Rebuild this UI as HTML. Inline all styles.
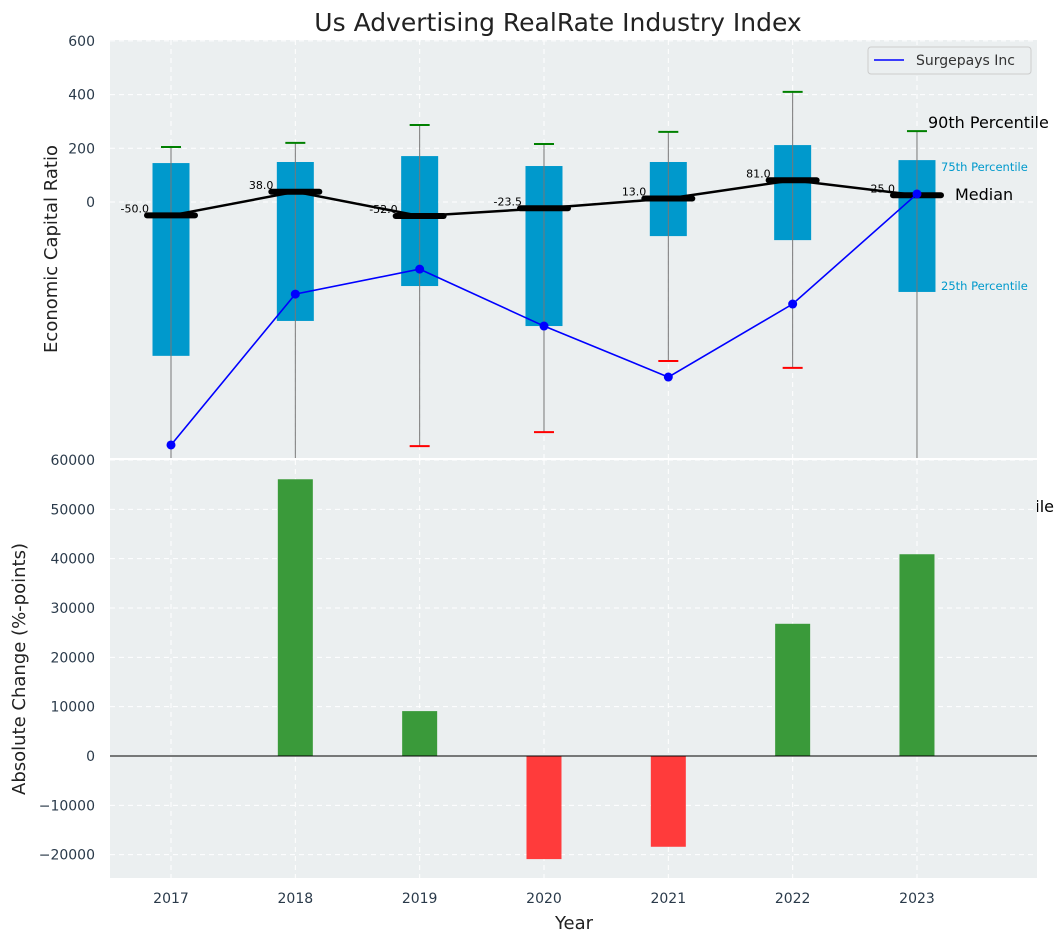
<!DOCTYPE html>
<html><head><meta charset="utf-8"><style>
body{margin:0;background:#fff;overflow:hidden;}
svg{display:block;font-family:"DejaVu Sans","Liberation Sans",sans-serif;}
</style></head><body>
<svg id="c" width="1063" height="942"></svg>
<script>
const years=["2017","2018","2019","2020","2021","2022","2023"];
const p75=[145,149,171,134,149,212,156];
const p25=[-573,-443,-313,-462,-127,-142,-335];
const p90=[205,220,287,216,261,410,264];
const p10=[-1200,-1200,-909,-857,-592,-618,-1200];
const medians=[-50,38,-52,-23.5,13,81,25];
const surge=[-905,-343,-250,-462,-652,-380,30];
const changes=[null,56100,9100,-20900,-18400,26800,40900];
const topTicks=[0,200,400,600];
const botTicks=[-20000,-10000,0,10000,20000,30000,40000,50000,60000];
const NS="http://www.w3.org/2000/svg";
const svg=document.getElementById('c');
function mk(t,a,p){const e=document.createElementNS(NS,t);for(const k in a)e.setAttribute(k,a[k]);(p||svg).appendChild(e);return e;}
const X0=171,DX=124.33;
const x=i=>X0+i*DX;
const L=110,R=1037;
const yT=v=>202-v*0.2685;
const yB=v=>756-v*0.004933;
let t=mk('text',{x:558,y:31,'text-anchor':'middle','font-size':25,fill:'#222'});t.textContent='Us Advertising RealRate Industry Index';

let bg1=mk('rect',{x:L,y:40,width:R-L,height:418,fill:'#ebeff0'});

let bg2=mk('rect',{x:L,y:460,width:R-L,height:418,fill:'#ebeff0'});

const clip1=mk('clipPath',{id:'c1'});mk('rect',{x:L,y:40,width:R-L,height:418},clip1);
const clip2=mk('clipPath',{id:'c2'});mk('rect',{x:L,y:460,width:R-L,height:418},clip2);
const g1=mk('g',{'clip-path':'url(#c1)'});const g2=mk('g',{'clip-path':'url(#c2)'});
years.forEach((y,i)=>{mk('line',{x1:x(i),x2:x(i),y1:40,y2:458,stroke:'#fff','stroke-dasharray':'5,4','stroke-width':1},g1);
mk('line',{x1:x(i),x2:x(i),y1:460,y2:878,stroke:'#fff','stroke-dasharray':'5,4','stroke-width':1},g2);
let tl=mk('text',{x:x(i),y:903,'text-anchor':'middle','font-size':14,fill:'#2a3a4a'});tl.textContent=y;
});
topTicks.forEach(v=>{mk('line',{x1:L,x2:R,y1:yT(v),y2:yT(v),stroke:'#fff','stroke-dasharray':'5,4'},g1);
let tl=mk('text',{x:95,y:yT(v)+5,'text-anchor':'end','font-size':14,fill:'#2a3a4a'});tl.textContent=v;
});
botTicks.forEach(v=>{mk('line',{x1:L,x2:R,y1:yB(v),y2:yB(v),stroke:'#fff','stroke-dasharray':'5,4'},g2);
let tl=mk('text',{x:95,y:yB(v)+5,'text-anchor':'end','font-size':14,fill:'#2a3a4a'});tl.textContent=v<0?'\u2212'+(-v):v;
});
years.forEach((y,i)=>{
 let b=mk('rect',{x:x(i)-18.5,y:yT(p75[i]),width:37,height:yT(p25[i])-yT(p75[i]),fill:'#0099cc'},g1);
 
 let w=mk('line',{x1:x(i),x2:x(i),y1:yT(p90[i]),y2:yT(p10[i]),stroke:'#777','stroke-width':1},g1);
 
 let c=mk('line',{x1:x(i)-10,x2:x(i)+10,y1:yT(p90[i]),y2:yT(p90[i]),stroke:'green','stroke-width':2},g1);
 
 let c2=mk('line',{x1:x(i)-10,x2:x(i)+10,y1:yT(p10[i]),y2:yT(p10[i]),stroke:'red','stroke-width':2},g1);
 
});
let ml=mk('polyline',{points:medians.map((v,i)=>x(i)+','+yT(v)).join(' '),fill:'none',stroke:'#000','stroke-width':2.5},g1);

medians.forEach((v,i)=>{let m=mk('line',{x1:x(i)-24,x2:x(i)+24,y1:yT(v),y2:yT(v),stroke:'#000','stroke-width':6,'stroke-linecap':'round'},g1);

let tl=mk('text',{x:x(i)-22,y:yT(v)-3,'text-anchor':'end','font-size':11,fill:'#000'});tl.textContent=v.toFixed(1);
});
let sl=mk('polyline',{points:surge.map((v,i)=>x(i)+','+yT(v)).join(' '),fill:'none',stroke:'blue','stroke-width':1.6},g1);

surge.forEach((v,i)=>{let p=mk('circle',{cx:x(i),cy:yT(v),r:4.5,fill:'blue'},g1);
});
const ann=[[928,128,'90th Percentile',16,'#000','start'],[941,171,'75th Percentile',11.5,'#0099cc','start'],[955,200,'Median',16,'#000','start'],[941,290,'25th Percentile',11.5,'#0099cc','start'],[1054,512,'90th Percentile',16,'#000','end']];
ann.forEach(a=>{let tl=mk('text',{x:a[0],y:a[1],'font-size':a[3],fill:a[4],'text-anchor':a[5]});tl.textContent=a[2];
});
// cover left of clipped annotation (text partially hidden behind plot)
let lg=mk('g',{});
mk('rect',{x:868,y:47,width:163,height:27,rx:3,fill:'#ebeff0',stroke:'#ccc'},lg);
mk('line',{x1:874,x2:904,y1:60,y2:60,stroke:'blue','stroke-width':1.6},lg);
let lt=mk('text',{x:916,y:65,'font-size':14,fill:'#333'},lg);lt.textContent='Surgepays Inc';
// bottom plot background redrawn over annotation overflow region
const g3=mk('g',{});
mk('rect',{x:L,y:460,width:R-L,height:418,fill:'#ebeff0'},g3);
const g2b=mk('g',{'clip-path':'url(#c2)'});
years.forEach((y,i)=>{mk('line',{x1:x(i),x2:x(i),y1:460,y2:878,stroke:'#fff','stroke-dasharray':'5,4','stroke-width':1},g2b);});
botTicks.forEach(v=>{mk('line',{x1:L,x2:R,y1:yB(v),y2:yB(v),stroke:'#fff','stroke-dasharray':'5,4'},g2b);});
changes.forEach((v,i)=>{if(v===null)return;
 let b=mk('rect',{x:x(i)-17.5,y:Math.min(yB(v),yB(0)),width:35,height:Math.abs(yB(v)-yB(0)),fill:v>=0?'#3a9a3a':'#ff3b3b'},g2b);
 });
mk('line',{x1:L,x2:R,y1:yB(0),y2:yB(0),stroke:'#000','stroke-width':1});
let a1=mk('text',{x:57,y:249,'text-anchor':'middle','font-size':18,fill:'#222',transform:'rotate(-90 57 249)'});a1.textContent='Economic Capital Ratio';

let a2=mk('text',{x:25,y:669,'text-anchor':'middle','font-size':18,fill:'#222',transform:'rotate(-90 25 669)'});a2.textContent='Absolute Change (%-points)';

let a3=mk('text',{x:574,y:929,'text-anchor':'middle','font-size':18,fill:'#222'});a3.textContent='Year';

</script>
</body></html>
